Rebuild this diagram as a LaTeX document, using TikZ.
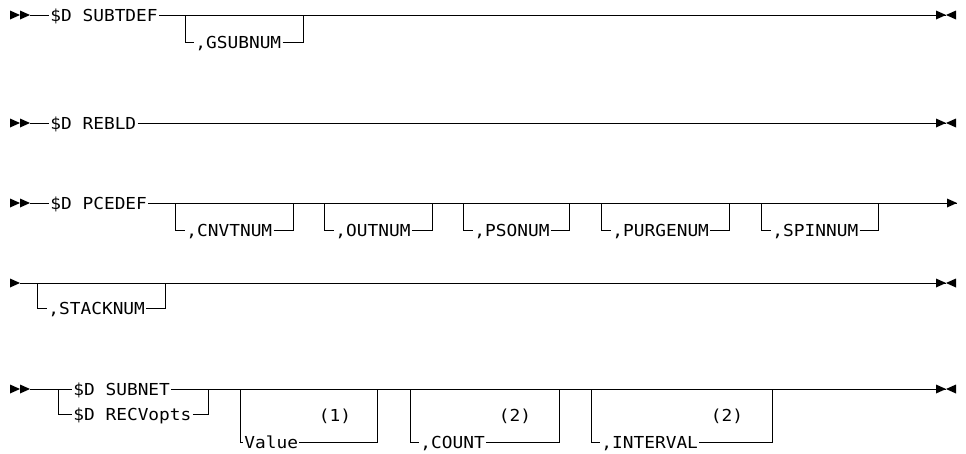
\documentclass[tikz,border=0pt]{standalone}
\usepackage{fontspec}
\newfontfamily\railfont[FakeStretch=1.08]{DejaVu Sans Mono}
\usepackage{tikz}

\tikzset{
  kw/.style={font=\railfont\fontsize{16.5}{20}\selectfont, inner sep=1pt,
    anchor=west, text height=12pt, text depth=0pt},
  rtri/.pic={\fill (-10,-4.5) -- (0,0) -- (-10,4.5) -- cycle;},
  ltri/.pic={\fill (10,-4.5) -- (0,0) -- (10,4.5) -- cycle;}
}

\begin{document}
\begin{tikzpicture}[x=1pt,y=-1pt,line width=0.8pt]
	\useasboundingbox (0,0) rectangle (966,453);

	% $D SUBTDEF
	\coordinate (s1) at (30,15);
	\coordinate (e1) at (946,15);
	\pic at (20,15) {rtri}; \pic at (s1) {rtri};
	\pic at (e1) {rtri}; \pic at (e1) {ltri};
	\node[kw] (subtdef) at (49,15) {\$D SUBTDEF};
	\draw (s1) -- (subtdef.west);
	\draw (subtdef.east) -- (e1);
	\coordinate (gsubnum-l) at (185,15);
	\coordinate (gsubnum-r) at (303,15);
	\node[kw] (gsubnum) at (194,42) {,GSUBNUM};
	\draw (gsubnum-l) |- (gsubnum.west);
	\draw (gsubnum.east) -| (gsubnum-r);

	% $D REBLD
	\coordinate (s2) at (30,123);
	\coordinate (e2) at (946,123);
	\pic at (20,123) {rtri}; \pic at (s2) {rtri};
	\pic at (e2) {rtri}; \pic at (e2) {ltri};
	\node[kw] (rebld) at (49,123) {\$D REBLD};
	\draw (s2) -- (rebld.west);
	\draw (rebld.east) -- (e2);

	% $D PCEDEF
	\coordinate (s3) at (30,203);
	\coordinate (e3) at (957,203);
	\pic at (20,203) {rtri}; \pic at (s3) {rtri};
	\pic at (e3) {rtri};
	\node[kw] (pcedef) at (49,203) {\$D PCEDEF};
	\draw (s3) -- (pcedef.west);
	\draw (pcedef.east) -- (e3);
	\foreach \l/\r/\n in {175/293/CNVTNUM, 324/432/OUTNUM, 463/569/PSONUM,
	                      601/729/PURGENUM, 761/878/SPINNUM} {
		\coordinate (\n-l) at (\l,203);
		\coordinate (\n-r) at (\r,203);
		\node[kw] (\n) at (\l+10,230) {,\n};
		\draw (\n-l) |- (\n.west);
		\draw (\n.east) -| (\n-r);
	}

	% continuation
	\coordinate (s4) at (20,283);
	\coordinate (e4) at (946,283);
	\pic at (s4) {rtri};
	\pic at (e4) {rtri}; \pic at (e4) {ltri};
	\draw (s4) -- (e4);
	\coordinate (stacknum-l) at (37,283);
	\coordinate (stacknum-r) at (165,283);
	\node[kw] (stacknum) at (47,308) {,STACKNUM};
	\draw (stacknum-l) |- (stacknum.west);
	\draw (stacknum.east) -| (stacknum-r);

	% $D SUBNET / $D RECVopts
	\coordinate (s5) at (30,389);
	\coordinate (e5) at (946,389);
	\pic at (20,389) {rtri}; \pic at (s5) {rtri};
	\pic at (e5) {rtri}; \pic at (e5) {ltri};
	\coordinate (fork) at (58,389);
	\coordinate (join) at (208,389);
	\node[kw] (subnet) at (72,389) {\$D SUBNET};
	\node[kw] (recv) at (72,414) {\$D RECVopts};
	\draw (s5) -- (subnet.west);
	\draw (fork) |- (recv.west);
	\draw (recv.east) -| (join);
	\draw (subnet.east) -- (e5);

	\coordinate (value-l) at (240,389);
	\coordinate (value-r) at (377,389);
	\node[kw] (value) at (243,442) {Value};
	\node[kw, anchor=center] (note1) at (335,415) {(1)};
	\draw (value-l) |- (value.west);
	\draw (value.east) -| (value-r);

	\coordinate (count-l) at (410,389);
	\coordinate (count-r) at (559,389);
	\node[kw] (count) at (419,442) {,COUNT};
	\node[kw, anchor=center] (note2) at (515,415) {(2)};
	\draw (count-l) |- (count.west);
	\draw (count.east) -| (count-r);

	\coordinate (interval-l) at (591,389);
	\coordinate (interval-r) at (772,389);
	\node[kw] (interval) at (600,442) {,INTERVAL};
	\node[kw, anchor=center] (note3) at (727,415) {(2)};
	\draw (interval-l) |- (interval.west);
	\draw (interval.east) -| (interval-r);
\end{tikzpicture}
\end{document}
